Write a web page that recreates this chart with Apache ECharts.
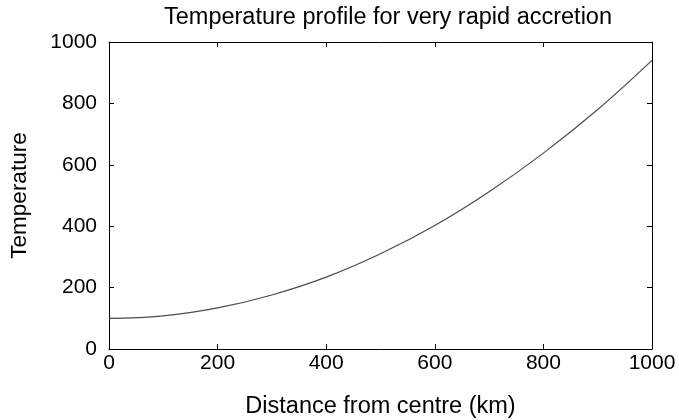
<!DOCTYPE html>
<html>
<head>
<meta charset="utf-8">
<script src="https://cdn.jsdelivr.net/npm/echarts@6/dist/echarts.min.js"></script>
<style>html,body{margin:0;padding:0;background:#fff}#c{width:679px;height:420px}</style>
</head>
<body>
<div id="c"></div>
<script>
const distance = [0, 100, 200, 300, 400, 500, 600, 700, 800, 900, 1000];
const temperature = [100, 108, 134, 176, 234, 310, 402, 512, 638, 780, 940];
const xTicks = [0, 200, 400, 600, 800, 1000];
const yTicks = [0, 200, 400, 600, 800, 1000];

const FONT = 'Liberation Sans, Arial, sans-serif';
const chart = echarts.init(document.getElementById('c'), null, {renderer: 'canvas'});
const axisBase = {
  type: 'value', min: 0, max: 1000, interval: 200,
  axisLine: {show: true, onZero: false, lineStyle: {color: '#000', width: 1}},
  axisTick: {show: true, inside: true, length: 5, lineStyle: {color: '#000'}},
  splitLine: {show: false}
};
chart.setOption({
  animation: false,
  backgroundColor: '#fff',
  title: {
    text: 'Temperature profile for very rapid accretion',
    left: 383, top: 1, textAlign: 'center',
    textStyle: {fontFamily: FONT, fontSize: 23.5, fontWeight: 'normal', color: '#000'}
  },
  grid: {left: 109, right: 27, top: 42, bottom: 71, containLabel: false, outerBoundsMode: 'none'},
  xAxis: [
    Object.assign({}, axisBase, {
      position: 'bottom',
      name: 'Distance from centre (km)', nameLocation: 'middle', nameGap: 46,
      nameTextStyle: {fontFamily: FONT, fontSize: 23.5, color: '#000'},
      axisLabel: {fontFamily: FONT, fontSize: 21, color: '#000', margin: 4,
        formatter: v => xTicks.includes(v) ? String(v) : ''}
    }),
    Object.assign({}, axisBase, {position: 'top', axisLabel: {show: false}})
  ],
  yAxis: [
    Object.assign({}, axisBase, {
      position: 'left',
      name: 'Temperature', nameLocation: 'middle', nameGap: 78,
      nameTextStyle: {fontFamily: FONT, fontSize: 22.5, color: '#000'},
      axisLabel: {fontFamily: FONT, fontSize: 21, color: '#000', margin: 12,
        formatter: v => yTicks.includes(v) ? String(v) : ''}
    }),
    Object.assign({}, axisBase, {position: 'right', axisLabel: {show: false}})
  ],
  series: [{
    type: 'line',
    data: distance.map((d, i) => [d, temperature[i]]),
    smooth: 0.4,
    showSymbol: false,
    lineStyle: {color: '#4a4a4a', width: 1.2},
    xAxisIndex: 0, yAxisIndex: 0
  }]
});
</script>
</body>
</html>
